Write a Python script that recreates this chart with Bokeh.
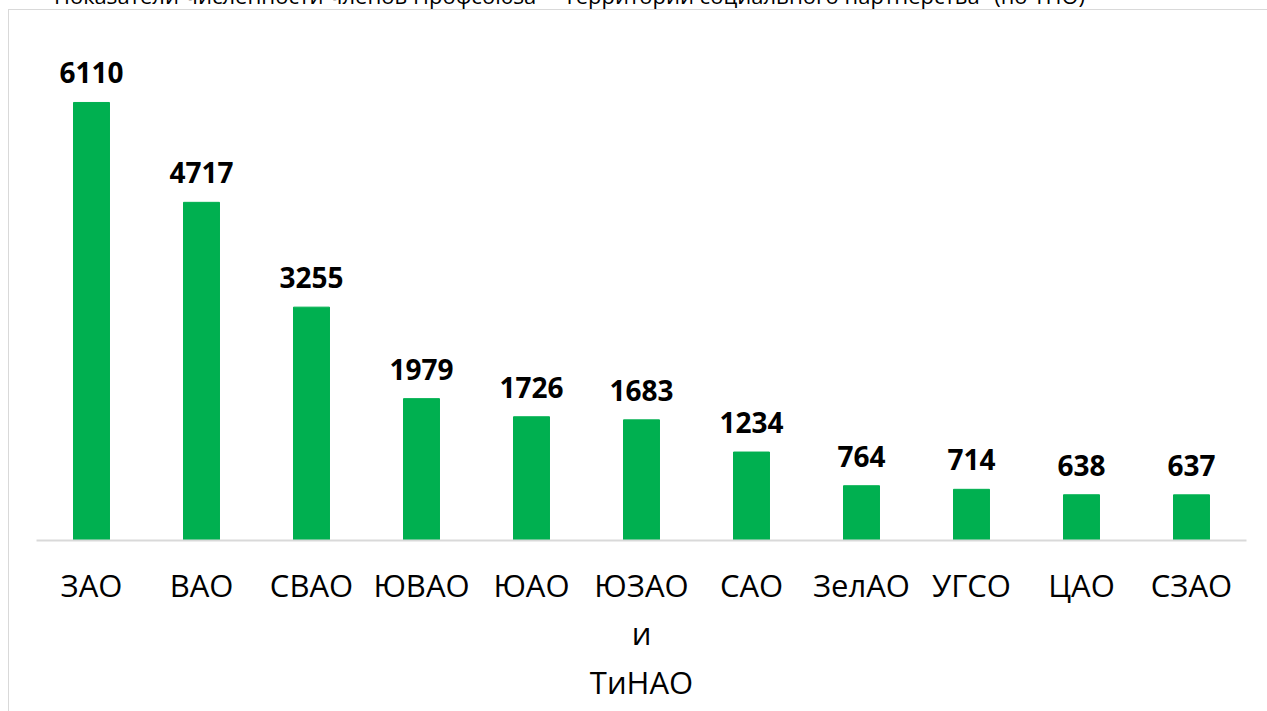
from bokeh.plotting import figure
from bokeh.models import ColumnDataSource, LabelSet, Div
from bokeh.layouts import column
from bokeh.core.properties import value
from bokeh.embed import file_html
from bokeh.resources import INLINE

districts = ["ЗАО", "ВАО", "СВАО", "ЮВАО", "ЮАО", "ЮЗАО\nи\nТиНАО", "САО", "ЗелАО", "УГСО", "ЦАО", "СЗАО"]
members = [6110, 4717, 3255, 1979, 1726, 1683, 1234, 764, 714, 638, 637]
title_text = 'Показатели численности членов Профсоюза - "Территории социального партнерства" (по ТПО)'

src = ColumnDataSource(dict(x=districts, y=members, lbl=[str(v) for v in members]))

p = figure(x_range=districts, y_range=(0, 7100), width=1259, height=702,
           output_backend="svg", toolbar_location=None,
           min_border_left=27, min_border_right=22, min_border_top=21, min_border_bottom=172,
           margin=(0, 0, 0, 8),
           styles={"border-left": "1px solid #d9d9d9", "border-top": "1px solid #d9d9d9"})

p.vbar(x="x", top="y", width=0.327, source=src, color="#00b050")

labels = LabelSet(x="x", y="y", text="lbl", source=src, text_align="center",
                  text_baseline="alphabetic", y_offset=19, text_font=value("Open Sans"),
                  text_font_style="bold", text_font_size="28px", text_color="#000000")
p.add_layout(labels)

p.yaxis.visible = False
p.xgrid.grid_line_color = None
p.ygrid.grid_line_color = None
p.outline_line_color = None
p.xaxis.axis_line_color = "#d9d9d9"
p.xaxis.axis_line_width = 2
p.xaxis.major_tick_line_color = None
p.xaxis.minor_tick_line_color = None
p.xaxis.major_label_text_font = "Open Sans"
p.xaxis.major_label_text_font_size = "31px"
p.xaxis.major_label_text_color = "#000000"
p.xaxis.major_label_standoff = 17
p.xaxis.major_label_text_line_height = 1.16
p.x_range.range_padding = 0

title = Div(text=title_text, width=1267, height=25, margin=(-16, 0, 0, 0),
            styles={"white-space": "nowrap", "font-family": "Open Sans", "font-size": "22px",
                    "line-height": "22px", "text-align": "right", "padding-right": "182px",
                    "color": "#000000", "overflow": "visible"})

layout = column(title, p, spacing=0)

open("out.html", "w").write(file_html(layout, INLINE))
